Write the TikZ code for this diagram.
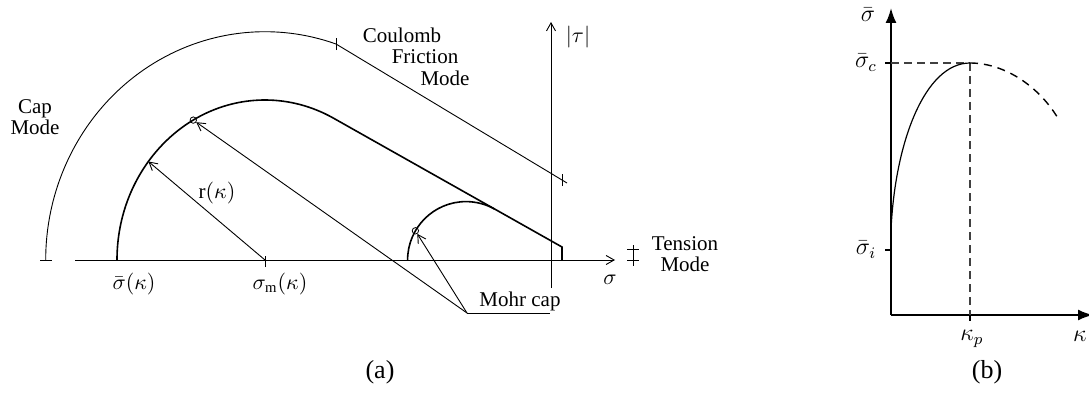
\documentclass[tikz,border=0pt]{standalone}
\usepackage{fontspec}
\setmainfont{Liberation Serif}
\usetikzlibrary{arrows.meta,calc}
\begin{document}
\begin{tikzpicture}[x=0.5pt,y=0.5pt,
  thinline/.style={line width=0.45pt},
  yieldline/.style={line width=0.8pt},
  barb/.style={-{Straight Barb[length=4pt,width=4.5pt]}},
  lbl/.style={font=\fontsize{10.5}{10.5}\selectfont, inner sep=0pt},
  lblb/.style={font=\fontsize{11.5}{11.5}\selectfont, inner sep=0pt},
  figcap/.style={font=\fontsize{13}{13}\selectfont, inner sep=0pt},
  marker/.style={circle, draw, line width=0.4pt, inner sep=0pt, minimum size=3.2pt},
  thickaxis/.style={line width=1pt,-{Latex[length=7.5pt,width=5.5pt]}},
  dashline/.style={line width=0.55pt, black!75, dash pattern=on 4pt off 2.5pt},
]
\useasboundingbox (0,0) rectangle (1089,392);
\clip (0,0) rectangle (1089,392);

% ---------------- (a) ----------------
\coordinate (axL) at (75,132);
\coordinate (axR) at (615,132);
\draw[thinline,barb] (axL) -- (axR);
\coordinate (tauB) at (551,104);
\coordinate (tauT) at (551,370);
\draw[thinline,barb] (tauB) -- (tauT);
\node[lbl] (tau) at (578,355) {$|\tau|$};
\node[lbl] (sig) at (610,112) {$\sigma$};

% outer (cap + Coulomb) curve
\coordinate (outL) at (45.7,132);
\coordinate (capTl) at (40,132);
\coordinate (capTr) at (52,132);
\draw[thinline] (capTl) -- (capTr);
\draw[thinline] (outL) arc[start angle=180,end angle=71.1,x radius=219.3,y radius=228.3] coordinate (outE);
\coordinate (outR) at (567,209);
\draw[thinline] (outE) -- (outR);
\draw[thinline] ($(outE)+(0,-6)$) -- ($(outE)+(0,6)$);
\coordinate (tk2) at (562,212);
\draw[thinline] ($(tk2)+(0,-6)$) -- ($(tk2)+(0,6)$);

% inner yield surface
\coordinate (inL) at (117,132);
\coordinate (inC) at (562,145);
\coordinate (inB) at (562,132);
\draw[yieldline] (inL) arc[start angle=180,end angle=62.7,x radius=148,y radius=160] -- (inC) -- (inB);

% small Mohr circle
\coordinate (moL) at (407.6,132);
\draw[yieldline] (moL) arc[start angle=180,end angle=60.6,radius=58.4];

% markers
\node[marker] (m1) at (193.3,271.9) {};
\node[marker] (m2) at (415.4,161.2) {};

% r(kappa)
\coordinate (sm) at (265,132);
\coordinate (rt) at (148.4,230.5);
\draw[thinline,barb] (sm) -- (rt);
\draw[thinline] ($(sm)+(0,-7)$) -- ($(sm)+(0,4)$);
\node[lbl] (rk) at (217,199) {r$(\kappa)$};

% Mohr cap leader
\coordinate (mc) at (467,79);
\coordinate (mcR) at (550,79);
\draw[thinline] (mc) -- (mcR);
\draw[thinline,barb] (mc) -- (m1);
\draw[thinline,barb] (mc) -- (m2);
\node[lbl] (mohr) at (520,91) {Mohr cap};

% tension mode marks
\coordinate (tmT) at (633,147);
\coordinate (tmB) at (633,126);
\draw[thinline] (tmT) -- (tmB);
\draw[thinline] (627,142.5) -- (639,142.5);
\draw[thinline] (627,132) -- (639,132);

% labels
\node[lbl] (sbar) at (134,108) {$\bar\sigma(\kappa)$};
\node[lbl] (smk) at (280,108) {$\sigma_{\mathrm{m}}(\kappa)$};
\node[lbl,align=center] (capmode) at (35,274.5) {Cap\\Mode};
\node[lbl] (coul1) at (402,357) {Coulomb};
\node[lbl] (coul2) at (425,335.5) {Friction};
\node[lbl] (coul3) at (445,314) {Mode};
\node[lbl,align=center] (tens) at (685,138) {Tension\\Mode};
\node[figcap] (capa) at (380,20) {(a)};

% ---------------- (b) ----------------
\coordinate (O) at (891,77);
\coordinate (yT) at (891,384);
\coordinate (xT) at (1093,77);
\draw[thickaxis] (O) -- (yT);
\draw[thickaxis] (O) -- (xT);
\coordinate (sc) at (891,329);
\coordinate (si) at (891,142);
\coordinate (kp) at (970,77);
\coordinate (pk) at (970,329);
\draw[line width=0.9pt] (sc) -- ++(-6,0);
\draw[line width=0.9pt] (si) -- ++(-6,0);
\draw[line width=0.9pt] (kp) -- ++(0,-6);
\draw[dashline] (sc) -- (pk);
\draw[dashline] (pk) -- (kp);
\coordinate (c0) at (891,162);
\draw[line width=0.6pt] (c0) .. controls (895,250) and (925,329) .. (pk);
\coordinate (cE) at (1059,272);
\draw[line width=0.7pt, dash pattern=on 4pt off 3pt] (pk) .. controls (1005,329) and (1040,305) .. (cE);
\node[lblb] (lsb) at (868,377) {$\bar\sigma$};
\node[lblb] (lsc) at (866,329) {$\bar\sigma_c$};
\node[lblb] (lsi) at (866,142) {$\bar\sigma_i$};
\node[lblb] (lkp) at (972,53) {$\kappa_p$};
\node[lblb] (lk) at (1080,56) {$\kappa$};
\node[figcap] (capb) at (987,20) {(b)};
\end{tikzpicture}
\end{document}
